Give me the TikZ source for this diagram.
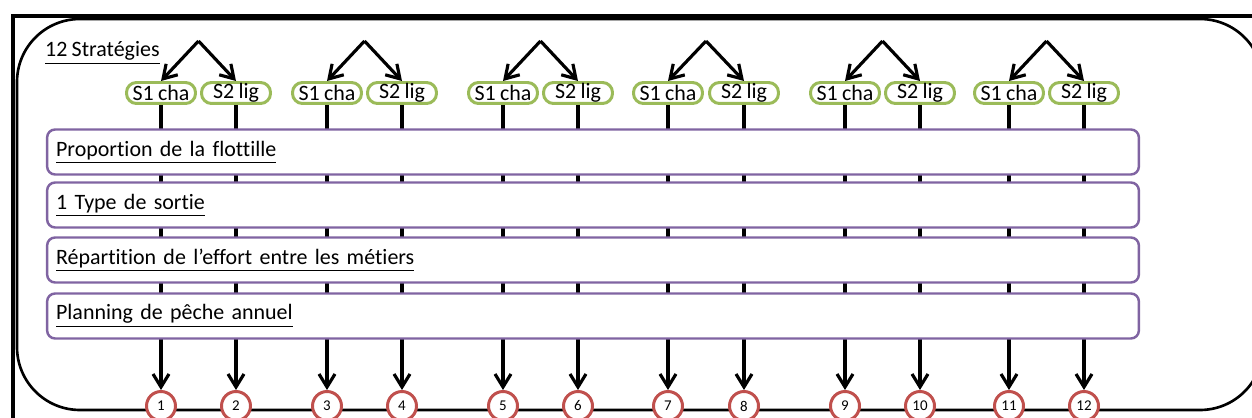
\documentclass[tikz,border=0pt]{standalone}
\usepackage{fontspec}
\setmainfont{Carlito}[Ligatures={NoCommon}, WordSpace=0.85]
\usetikzlibrary{arrows.meta}

\definecolor{chgreen}{HTML}{9BBB59}
\definecolor{stpurple}{HTML}{8064A2}
\definecolor{resred}{HTML}{C0504D}

\begin{document}
\begin{tikzpicture}[
    x=0.02cm, y=-0.02cm,
    every node/.style={font=\fontsize{12.5}{14}\selectfont},
    choice/.style={draw=chgreen, line width=1.7pt, fill=white, rounded corners=2mm, minimum width=1.38cm, minimum height=0.42cm, inner sep=0pt},
    stage/.style={draw=stpurple, line width=1.4pt, fill=white, rounded corners=1.6mm, minimum height=0.9cm, text width=21.48cm, inner sep=0.18cm, align=left},
    result/.style={circle, draw=resred, line width=1.7pt, fill=white, minimum size=0.58cm, inner sep=0pt, font=\fontsize{8.5}{10}\selectfont},
    directed/.style={-{Straight Barb[length=2.6mm, width=3.2mm]}, line width=1.8pt}
]
\useasboundingbox (0,0) rectangle (1252,418);
\clip (0,0) rectangle (1252,418);

% cadre
\draw[line width=1.8pt] (13,16) rectangle (1300,450);
\draw[line width=1.5pt, rounded corners=1.26cm] (17,19) rectangle (1263,410);

\node[anchor=west] (titre) at (39,53) {\underline{12 Stratégies}};

% stratégies et résultats
\foreach \i/\xa/\xb in {1/161/236, 2/327/402, 3/503/578, 4/668/744, 5/845/920, 6/1009/1084} {
  \pgfmathtruncatemacro{\na}{2*\i-1}
  \pgfmathtruncatemacro{\nb}{2*\i}
  \node[choice] (cha\i) at (\xa,93) {S1 cha};
  \node[choice] (lig\i) at (\xb,93) {S2 lig};
  \coordinate (top\i) at ({(\xa+\xb)/2},41);
  \node[result] (r\na) at (\xa,406) {\na};
  \node[result] (r\nb) at (\xb,406) {\nb};
  \draw[directed] (top\i) -- (cha\i.north);
  \draw[directed] (top\i) -- (lig\i.north);
  \draw[directed] (cha\i) -- (r\na);
  \draw[directed] (lig\i) -- (r\nb);
}

% étapes
\node[stage] (flotte) at (593,152) {\underline{Proportion de la flottille}};
\node[stage] (sortie) at (593,205) {\underline{1 Type de sortie}};
\node[stage] (effort) at (593,260) {\underline{Répartition de l’effort entre les métiers}};
\node[stage] (planning) at (593,316) {\underline{Planning de pêche annuel}};

\end{tikzpicture}
\end{document}
